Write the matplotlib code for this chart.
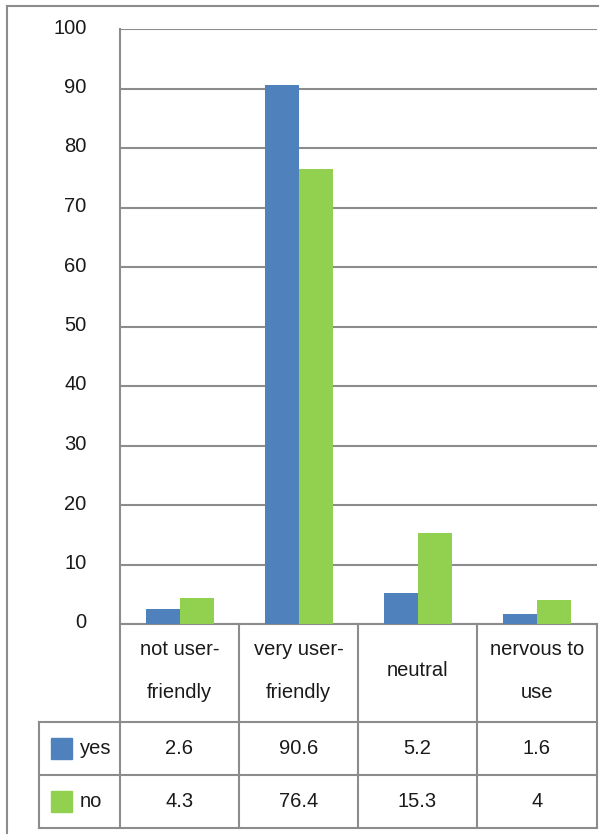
import matplotlib
matplotlib.use("Agg")
import matplotlib.pyplot as plt
from matplotlib.lines import Line2D
from matplotlib.patches import Rectangle
from matplotlib.transforms import ScaledTranslation

plt.rcParams['font.family'] = ['Liberation Sans', 'DejaVu Sans']

categories = ["not user-\nfriendly", "very user-\nfriendly", "neutral", "nervous to\nuse"]
series_names = ["yes", "no"]
yes_values = [2.6, 90.6, 5.2, 1.6]
no_values = [4.3, 76.4, 15.3, 4]
table_labels = [["2.6", "90.6", "5.2", "1.6"], ["4.3", "76.4", "15.3", "4"]]
colors = ["#4F81BD", "#92D050"]
y_ticks = [0, 10, 20, 30, 40, 50, 60, 70, 80, 90, 100]

W, H = 599, 835
GRID = "#8c8c8c"
TXT = "#1a1a1a"
FS = 14.5

fig = plt.figure(figsize=(W / 100, H / 100), dpi=100)


def px_rect(x0, y0, x1, y1):
    return [x0 / W, 1 - y1 / H, (x1 - x0) / W, (y1 - y0) / H]


# outer frame (left and top edges)
frame = fig.add_axes([0, 0, 1, 1])
frame.set_xlim(0, W)
frame.set_ylim(H, 0)
frame.axis("off")
frame.add_line(Line2D([7, 7], [6, 833], color=GRID, lw=1.5))
frame.add_line(Line2D([7, W], [6, 6], color=GRID, lw=1.5))

# bar chart area
ax = fig.add_axes(px_rect(120, 29, 597, 624))
n = len(categories)
xs = list(range(n))
bw = 0.285
ax.bar([x - bw / 2 for x in xs], yes_values, width=bw, color=colors[0], zorder=3)
ax.bar([x + bw / 2 for x in xs], no_values, width=bw, color=colors[1], zorder=3)
ax.set_xlim(-0.5, n - 0.5)
ax.set_ylim(0, 100)
ax.set_yticks(y_ticks)
ax.set_yticklabels([str(t) for t in y_ticks], fontsize=FS, color=TXT)
ax.tick_params(axis="y", length=0, pad=24)
shift = ScaledTranslation(0, 3 / 100, fig.dpi_scale_trans)
for lbl in ax.get_yticklabels():
    lbl.set_transform(lbl.get_transform() + shift)
ax.set_xticks([])
ax.grid(axis="y", color=GRID, lw=1.5, zorder=0)
for s in ["top", "right"]:
    ax.spines[s].set_visible(False)
ax.spines["left"].set_color(GRID)
ax.spines["left"].set_linewidth(1.5)
ax.spines["bottom"].set_color(GRID)
ax.spines["bottom"].set_linewidth(1.5)
ax.set_facecolor("none")

# data table below the chart
tab = fig.add_axes([0, 0, 1, 1])
tab.set_xlim(0, W)
tab.set_ylim(H, 0)
tab.axis("off")
col_edges = [120, 239, 358, 477, 597]
head_top, head_bot = 624, 722
row_edges = [722, 775, 828]
leg_left = 39

for xe in col_edges:
    tab.add_line(Line2D([xe, xe], [head_top, row_edges[-1]], color=GRID, lw=1.5))
tab.add_line(Line2D([leg_left, leg_left], [row_edges[0], row_edges[-1]], color=GRID, lw=1.5))
for ye in row_edges:
    tab.add_line(Line2D([leg_left, col_edges[-1]], [ye, ye], color=GRID, lw=1.5))

for i, cat in enumerate(categories):
    cx = (col_edges[i] + col_edges[i + 1]) / 2
    tab.text(cx, (head_top + head_bot) / 2 - 2, cat, ha="center", va="center",
             fontsize=FS, color=TXT, linespacing=2.6)

for r, name in enumerate(series_names):
    cy = (row_edges[r] + row_edges[r + 1]) / 2
    tab.add_patch(Rectangle((51, cy - 11), 21, 21, color=colors[r]))
    tab.text(80, cy, name, ha="left", va="center", fontsize=FS, color=TXT)
    for i, lab in enumerate(table_labels[r]):
        cx = (col_edges[i] + col_edges[i + 1]) / 2
        tab.text(cx, cy, lab, ha="center", va="center", fontsize=FS, color=TXT)

fig.savefig("out.png", dpi=100)
